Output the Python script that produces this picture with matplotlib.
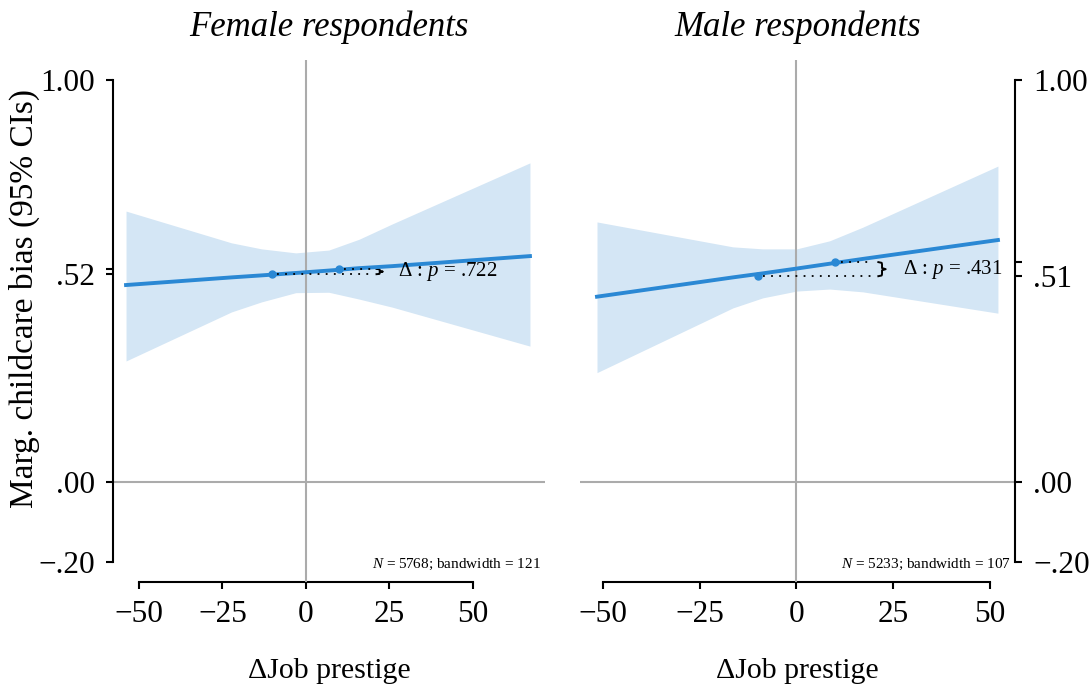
import matplotlib
matplotlib.use("Agg")
import matplotlib.pyplot as plt

plt.rcParams['font.family'] = ['Liberation Serif', 'DejaVu Serif']
plt.rcParams['mathtext.fontset'] = 'custom'
plt.rcParams['mathtext.rm'] = 'Liberation Serif'
plt.rcParams['mathtext.it'] = 'Liberation Serif:italic'

# --- data ---
titles = ['Female respondents', 'Male respondents']

# female respondents: local linear fit with 95% CI band
f_x = [-53.9, -22.3, -13.3, -3.0, 6.9, 16.0, 25.9, 67.2]
f_fit = [0.490, 0.509, 0.514, 0.520, 0.526, 0.532, 0.537, 0.562]
f_hi = [0.674, 0.595, 0.580, 0.570, 0.577, 0.604, 0.642, 0.794]
f_lo = [0.301, 0.423, 0.448, 0.471, 0.472, 0.455, 0.435, 0.338]
f_dot_x = [-10, 10]
f_dot_y = [0.517, 0.530]
f_p = '.722'
f_n, f_bw = 5768, 121
f_lab = '.52'

# male respondents
m_x = [-51.5, -16.4, -8.7, 0.1, 8.6, 17.2, 52.1]
m_fit = [0.461, 0.509, 0.519, 0.531, 0.543, 0.555, 0.602]
m_hi = [0.647, 0.585, 0.580, 0.580, 0.600, 0.634, 0.786]
m_lo = [0.272, 0.433, 0.458, 0.475, 0.480, 0.473, 0.420]
m_dot_x = [-10, 10]
m_dot_y = [0.512, 0.547]
m_p = '.431'
m_n, m_bw = 5233, 107
m_lab = '.51'

xticks = [-50, -25, 0, 25, 50]
xtick_labels = ['\u221250', '\u221225', '0', '25', '50']

blue = '#2a88d4'
band = '#d4e6f5'
grey = '#ababab'


def draw_brace(ax, x0, y1, y2, w):
    ym = (y1 + y2) / 2
    h = y2 - y1
    xs = [x0, x0 + w * 0.45, x0 + w * 0.5, x0 + w * 0.5, x0 + w,
          x0 + w * 0.5, x0 + w * 0.5, x0 + w * 0.45, x0]
    ys = [y1, y1 + h * 0.05, y1 + h * 0.15, ym - h * 0.08, ym,
          ym + h * 0.08, y2 - h * 0.15, y2 - h * 0.05, y2]
    ax.plot(xs, ys, color='black', lw=1.4, solid_joinstyle='round')


def panel(ax, title, x, fit, lo, hi, dx, dy, p, n, bw, lab, xlim, right):
    ax.axhline(0, color=grey, lw=1.5, zorder=1)
    ax.axvline(0, color=grey, lw=1.5, zorder=3)
    ax.fill_between(x, lo, hi, color=band, lw=0, zorder=2)
    ax.plot(x, fit, color=blue, lw=2.8, zorder=4)
    ax.plot(dx, dy, 'o', color=blue, ms=5, mec=blue, zorder=6)

    # dotted guides, brace and p-value
    x_end = 19.5
    for xd, yd in zip(dx, dy):
        ax.plot([xd + 1.5, x_end], [yd, yd], color='black', lw=1.3,
                ls=(0, (1, 3.5)), zorder=5)
    draw_brace(ax, 21.2, dy[0], dy[1], 1.9)
    ax.text(27.5, (dy[0] + dy[1]) / 2, 'Δ : $p$ = ' + p, fontsize=15,
            va='center', ha='left', zorder=6)

    ax.text(0.99, 0.02, '$N$ = %d; bandwidth = %d' % (n, bw), fontsize=11,
            transform=ax.transAxes, ha='right', va='bottom')

    ax.set_xlim(*xlim)
    ax.set_ylim(-0.249, 1.05)
    ax.set_xticks(xticks, xtick_labels)
    ax.set_yticks([-0.2, 0.0, dy[0], 1.0],
                  ['\u2212.20', '.00', lab, '1.00'])
    ax.set_yticks([dy[1]], minor=True)
    ax.tick_params(axis='both', which='both', length=5, width=1.5,
                   labelsize=22.5, direction='out')
    ax.tick_params(axis='x', pad=8)
    ax.tick_params(axis='y', pad=8)

    ax.spines['top'].set_visible(False)
    ax.spines['bottom'].set_bounds(-50, 50)
    ax.spines['bottom'].set_linewidth(1.5)
    if right:
        ax.spines['left'].set_visible(False)
        ax.spines['right'].set_bounds(-0.2, 1.0)
        ax.spines['right'].set_linewidth(1.5)
        ax.yaxis.tick_right()
    else:
        ax.spines['right'].set_visible(False)
        ax.spines['left'].set_bounds(-0.2, 1.0)
        ax.spines['left'].set_linewidth(1.5)

    ax.set_xlabel('ΔJob prestige', fontsize=21.5, labelpad=21)
    ax.set_title(title, fontsize=25, fontstyle='italic', pad=17)


fig = plt.figure(figsize=(10.91, 6.84), dpi=100)
ax1 = fig.add_axes([0.1036, 0.1491, 0.3959, 0.7632])
ax2 = fig.add_axes([0.5316, 0.1491, 0.3987, 0.7632])

panel(ax1, titles[0], f_x, f_fit, f_lo, f_hi, f_dot_x, f_dot_y, f_p,
      f_n, f_bw, f_lab, (-57.8, 71.7), False)
panel(ax2, titles[1], m_x, m_fit, m_lo, m_hi, m_dot_x, m_dot_y, m_p,
      m_n, m_bw, m_lab, (-55.9, 56.5), True)

ax1.set_ylabel('Marg. childcare bias (95% CIs)', fontsize=24)
ax1.yaxis.set_label_coords(-0.17, 0.544)

fig.savefig('out.png', dpi=100)
